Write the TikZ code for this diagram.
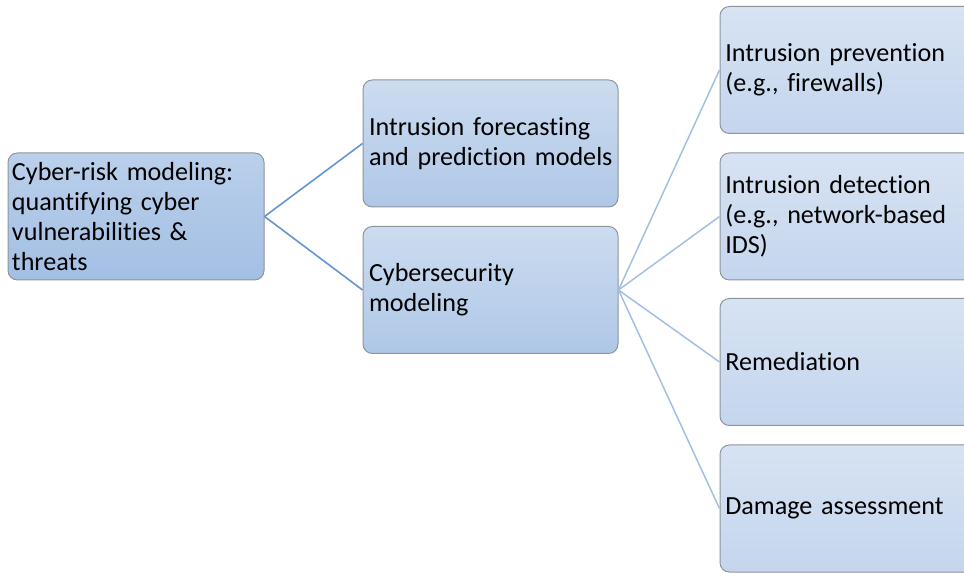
\documentclass[tikz,border=0pt]{standalone}
\usepackage{fontspec}
\setmainfont{Carlito}[Ligatures={NoCommon}]
\definecolor{bordergray}{HTML}{8E949B}
\definecolor{rootTop}{HTML}{BAD0EB}
\definecolor{rootBot}{HTML}{A3BFE4}
\definecolor{midTop}{HTML}{CCDCF0}
\definecolor{midBot}{HTML}{AFC7E7}
\definecolor{leafTop}{HTML}{D7E3F3}
\definecolor{leafBot}{HTML}{C4D5ED}
\definecolor{edgeOne}{HTML}{6495D2}
\definecolor{edgeTwo}{HTML}{A2BEE3}
\tikzset{
  box/.style={draw=bordergray, line width=0.75pt, rounded corners=7pt,
    shading=axis, align=left, inner xsep=3pt, inner ysep=0pt,
    minimum width=191.25pt, minimum height=95.25pt, text width=185.25pt,
    font={\fontsize{19.6}{22.5}\selectfont}},
  rootbox/.style={box, top color=rootTop, bottom color=rootBot,
    minimum width=192pt, text width=186pt},
  midbox/.style={box, top color=midTop, bottom color=midBot, inner xsep=4.5pt, text width=182.25pt},
  leafbox/.style={box, top color=leafTop, bottom color=leafBot, inner xsep=4pt, text width=183.25pt},
  linkone/.style={draw=edgeOne, line width=1.2pt},
  linktwo/.style={draw=edgeTwo, line width=1.1pt}
}
\begin{document}
\begin{tikzpicture}[x=0.75pt,y=-0.75pt]
\useasboundingbox (0,0) rectangle (964,573);
\clip (0,0) rectangle (964,573);
\node[rootbox] (root) at (136,216.5) {\mbox{Cyber-risk modeling:}\\ \mbox{quantifying cyber}\\ \mbox{vulnerabilities \&}\\ threats};
\node[midbox] (fore) at (490.5,143.5) {\mbox{Intrusion forecasting}\\ \mbox{and prediction models}};
\node[midbox] (cyber) at (490.5,290) {Cybersecurity\\ modeling};
\node[leafbox] (prev) at (847.5,70) {\mbox{Intrusion prevention}\\ \mbox{(e.g., firewalls)}};
\node[leafbox] (detect) at (847.5,216.5) {\mbox{Intrusion detection}\\ \mbox{(e.g., network-based}\\ IDS)};
\node[leafbox] (remed) at (847.5,362) {Remediation};
\node[leafbox] (damage) at (847.5,508.5) {\mbox{Damage assessment}};
\draw[linkone] (root.east) -- (fore.west);
\draw[linkone] (root.east) -- (cyber.west);
\draw[linktwo] (cyber.east) -- (prev.west);
\draw[linktwo] (cyber.east) -- (detect.west);
\draw[linktwo] (cyber.east) -- (remed.west);
\draw[linktwo] (cyber.east) -- (damage.west);
\end{tikzpicture}
\end{document}
